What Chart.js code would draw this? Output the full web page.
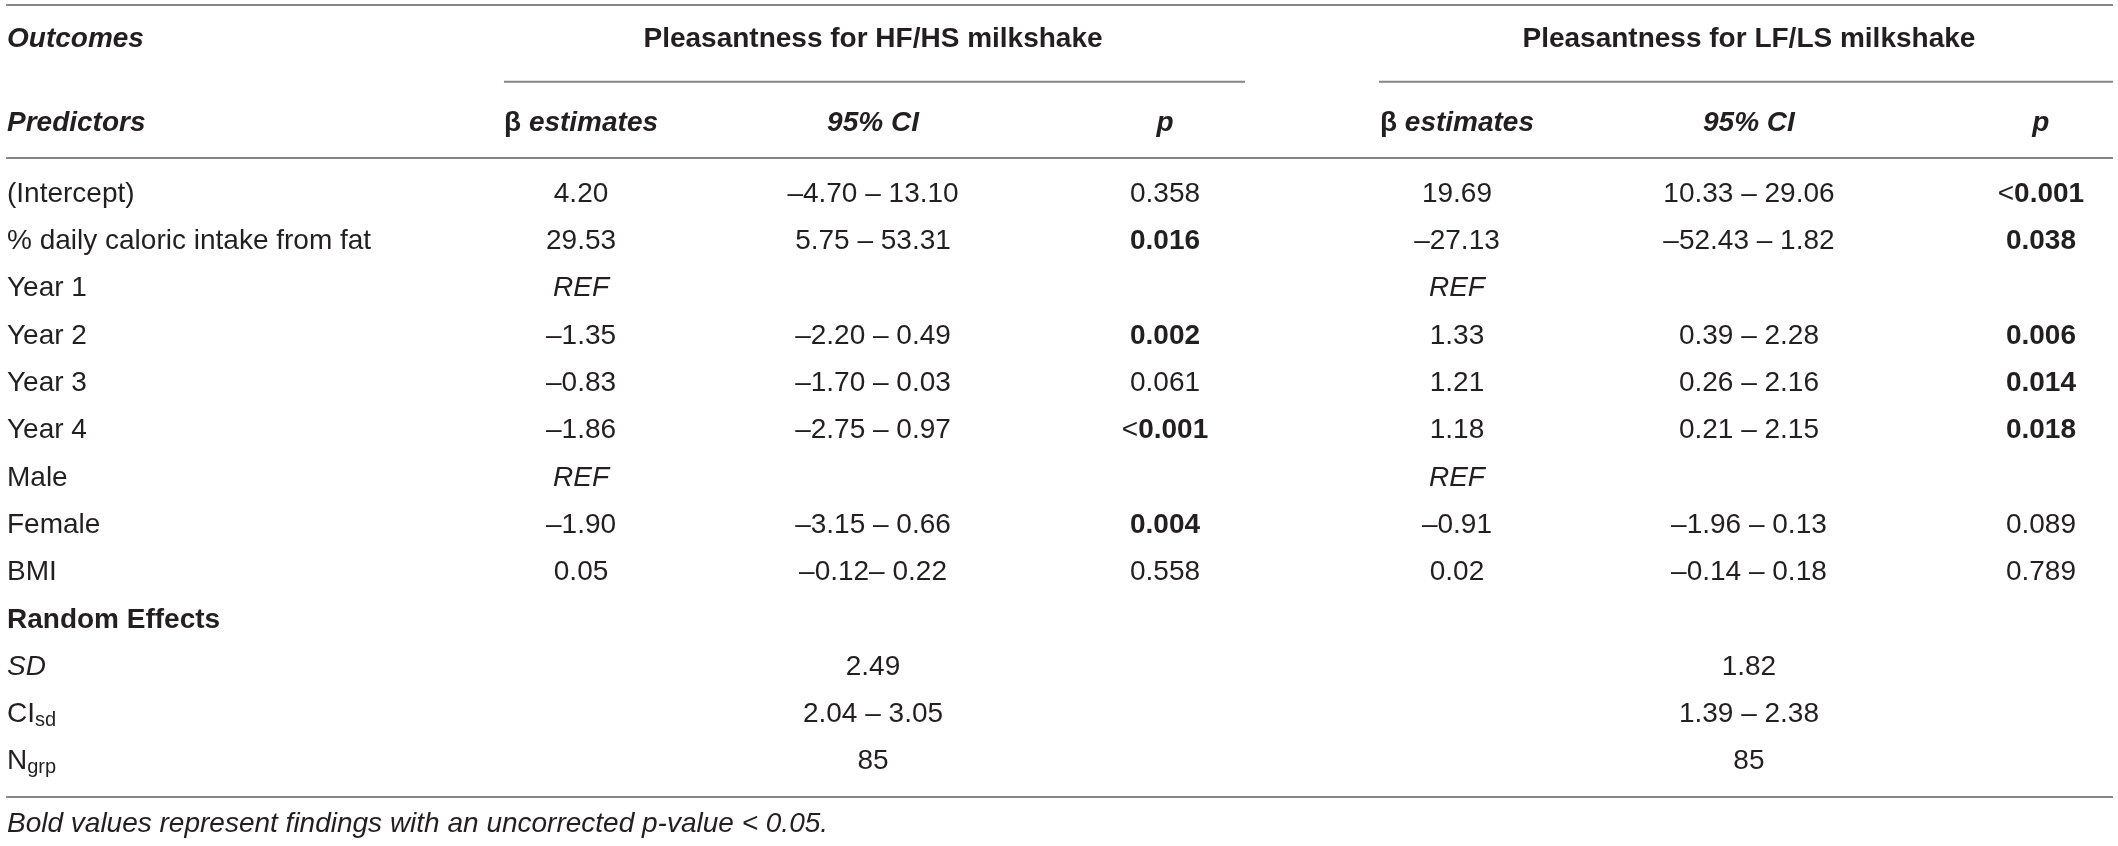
<!DOCTYPE html>
<html>
<head>
<meta charset="utf-8">
<title>Pleasantness mixed models</title>
<script src="https://cdn.jsdelivr.net/npm/chart.js@4.4.1/dist/chart.umd.min.js"></script>
<style>
  html, body { margin: 0; padding: 0; background: #fff; }
  canvas { display: block; }
</style>
</head>
<body>
<canvas id="tbl" width="2118" height="846"></canvas>
<script>
// table content
const predictors = ['(Intercept)', '% daily caloric intake from fat', 'Year 1', 'Year 2', 'Year 3', 'Year 4',
  'Male', 'Female', 'BMI', 'Random Effects', 'SD', 'CIsd', 'Ngrp'];
const hfBeta = ['4.20', '29.53', 'REF', '–1.35', '–0.83', '–1.86', 'REF', '–1.90', '0.05', '', '', '', ''];
const hfCI = ['–4.70 – 13.10', '5.75 – 53.31', '', '–2.20 – 0.49', '–1.70 – 0.03', '–2.75 – 0.97', '',
  '–3.15 – 0.66', '–0.12– 0.22', '', '2.49', '2.04 – 3.05', '85'];
const hfP = ['0.358', '0.016', '', '0.002', '0.061', '<0.001', '', '0.004', '0.558', '', '', '', ''];
const lfBeta = ['19.69', '–27.13', 'REF', '1.33', '1.21', '1.18', 'REF', '–0.91', '0.02', '', '', '', ''];
const lfCI = ['10.33 – 29.06', '–52.43 – 1.82', '', '0.39 – 2.28', '0.26 – 2.16', '0.21 – 2.15', '',
  '–1.96 – 0.13', '–0.14 – 0.18', '', '1.82', '1.39 – 2.38', '85'];
const lfP = ['<0.001', '0.038', '', '0.006', '0.014', '0.018', '', '0.089', '0.789', '', '', '', ''];
const outcomes = ['Pleasantness for HF/HS milkshake', 'Pleasantness for LF/LS milkshake'];
const statHeaders = ['β estimates', '95% CI', 'p'];
const cornerLabels = ['Outcomes', 'Predictors'];
const footnote = 'Bold values represent findings with an uncorrected p-value < 0.05.';

// layout in scale units (x = column index, y = row index)
const LABEL_X = -0.966;
const Y_OUTCOME = -3.26, Y_HEADER = -1.5, Y_NOTE = 13.315;
const FAMILY = '"Liberation Sans", Arial, Helvetica, sans-serif';
const INK = '#231f20';

function font(weight, italic, size) {
  return (italic ? 'italic ' : '') + weight + ' ' + (size || 28) + 'px ' + FAMILY;
}

// split a cell into styled runs
function labelRuns(t) {
  if (t === 'Random Effects') return [{ s: t, f: font('bold') }];
  if (t === 'SD') return [{ s: t, f: font('normal', true) }];
  if (t === 'CIsd') return [{ s: 'CI', f: font('normal') }, { s: 'sd', f: font('normal', false, 20), dy: 6 }];
  if (t === 'Ngrp') return [{ s: 'N', f: font('normal') }, { s: 'grp', f: font('normal', false, 20), dy: 6 }];
  return [{ s: t, f: font('normal') }];
}
function valueRuns(t) {
  if (t === 'REF') return [{ s: t, f: font('normal', true) }];
  return [{ s: t, f: font('normal') }];
}
function pRuns(t) {
  const v = parseFloat(t.replace('<', ''));
  if (!(v < 0.05)) return [{ s: t, f: font('normal') }];
  if (t[0] === '<') return [{ s: '<', f: font('normal') }, { s: t.slice(1), f: font('bold') }];
  return [{ s: t, f: font('bold') }];
}
function statRuns(t) {
  if (t.startsWith('β')) return [{ s: 'β', f: font('bold') }, { s: t.slice(1), f: font('bold', true) }];
  return [{ s: t, f: font('bold', true) }];
}

function cellDataset(col, values, toRuns, align) {
  const data = [];
  values.forEach((t, i) => {
    if (t !== '') data.push({ x: col, y: i, runs: toRuns(t) });
  });
  return { cells: true, align: align || 'center', data: data, pointRadius: 0 };
}

const headerCells = [];
cornerLabels.forEach((t, i) => {
  headerCells.push({ x: LABEL_X, y: i === 0 ? Y_OUTCOME : Y_HEADER, runs: [{ s: t, f: font('bold', true) }], left: true });
});
outcomes.forEach((t, g) => {
  headerCells.push({ x: 2 + g * 3, y: Y_OUTCOME, runs: [{ s: t, f: font('bold') }] });
  statHeaders.forEach((h, k) => {
    headerCells.push({ x: 1 + g * 3 + k, y: Y_HEADER, runs: statRuns(h) });
  });
});
headerCells.push({ x: LABEL_X, y: Y_NOTE, runs: [{ s: footnote, f: font('normal', true) }], left: true });

function rule(x0, x1, y) {
  return {
    data: [{ x: x0, y: y }, { x: x1, y: y }],
    showLine: true, borderColor: '#858585', borderWidth: 2, pointRadius: 0
  };
}

const datasets = [
  rule(-0.969, 6.247, -3.994),
  rule(0.736, 3.274, -2.37),
  rule(3.733, 6.247, -2.37),
  rule(-0.969, 6.247, -0.76),
  rule(-0.969, 6.247, 12.745),
  cellDataset(LABEL_X, predictors, labelRuns, 'left'),
  cellDataset(1, hfBeta, valueRuns),
  cellDataset(2, hfCI, valueRuns),
  cellDataset(3, hfP, pRuns),
  cellDataset(4, lfBeta, valueRuns),
  cellDataset(5, lfCI, valueRuns),
  cellDataset(6, lfP, pRuns),
  { cells: true, align: 'center', data: headerCells, pointRadius: 0 }
];

function drawRuns(ctx, runs, x, y, align) {
  let total = 0;
  runs.forEach(r => { ctx.font = r.f; r.w = ctx.measureText(r.s).width; total += r.w; });
  let cx = align === 'left' ? x : x - total / 2;
  runs.forEach(r => {
    ctx.font = r.f;
    ctx.fillText(r.s, cx, y + (r.dy || 0));
    cx += r.w;
  });
}

// writes the text of every cell at the point the scales give it
const cellText = {
  id: 'cellText',
  afterDatasetsDraw(chart) {
    const ctx = chart.ctx;
    ctx.save();
    ctx.textBaseline = 'middle';
    ctx.textAlign = 'left';
    ctx.fillStyle = INK;
    chart.data.datasets.forEach((ds, di) => {
      if (!ds.cells) return;
      const meta = chart.getDatasetMeta(di);
      meta.data.forEach((pt, i) => {
        const cell = ds.data[i];
        drawRuns(ctx, cell.runs, pt.x, pt.y, cell.left ? 'left' : ds.align);
      });
    });
    ctx.restore();
  }
};

new Chart(document.getElementById('tbl'), {
  type: 'scatter',
  data: { datasets: datasets },
  options: {
    responsive: false,
    animation: false,
    layout: { padding: 0 },
    plugins: { legend: { display: false }, tooltip: { enabled: false } },
    scales: {
      x: { type: 'linear', min: -0.99, max: 6.264, display: false },
      y: { type: 'linear', min: -4.10, max: 13.78, reverse: true, display: false }
    }
  },
  plugins: [cellText]
});
</script>
</body>
</html>
